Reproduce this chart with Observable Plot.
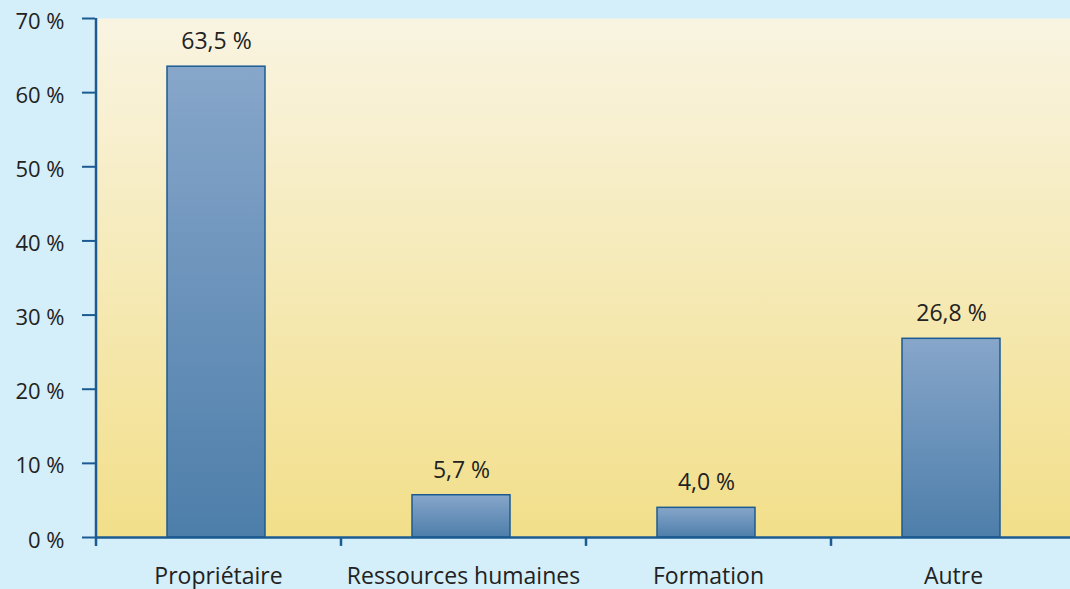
<!DOCTYPE html>
<html><head><meta charset="utf-8">
<script src="https://cdn.jsdelivr.net/npm/d3@7"></script>
<script src="https://cdn.jsdelivr.net/npm/@observablehq/plot@0.6"></script>
<style>html,body{margin:0;padding:0;background:#d4eefa;} svg{display:block}</style>
</head><body><div id="chart"></div>
<script>
const categories = ["Propriétaire", "Ressources humaines", "Formation", "Autre"];
const values = [63.5, 5.7, 4.0, 26.8];
const yTicks = [0, 10, 20, 30, 40, 50, 60, 70];

const data = categories.map((c, i) => ({category: c, value: values[i]}));
const fmt = v => v.toFixed(1).replace(".", ",") + " %";
const step = 245;
const axisColor = "#1c5b92";

const plot = Plot.plot({
  width: 1070, height: 589,
  marginLeft: 95, marginRight: 0, marginTop: 18, marginBottom: 52,
  style: {background: "#d4eefa", fontFamily: "'Open Sans', 'Liberation Sans', Arial, sans-serif", color: "#222", overflow: "visible"},
  x: {domain: categories, range: [93, 1073], paddingInner: 0.6, paddingOuter: 0.3, axis: null, label: null},
  y: {domain: [0, 70], axis: null, label: null},
  marks: [
    Plot.frame({fill: "url(#bgGrad)", stroke: "none"}),
    Plot.barY(data, {x: "category", y: "value", fill: "url(#barGrad)", stroke: axisColor, strokeWidth: 1.5}),
    Plot.text(data, {x: "category", y: "value", text: d => fmt(d.value), dy: -25, fontSize: 23, fill: "#222"}),
    Plot.ruleY([0], {stroke: axisColor, strokeWidth: 2.5}),
    Plot.ruleX([categories[0]], {x: d => d, y1: -1.2, y2: 70, dx: -step / 2 + 2, stroke: axisColor, strokeWidth: 2.5}),
    Plot.ruleX(categories.slice(1), {x: d => d, y1: -1.2, y2: 0, dx: -step / 2 + 2, stroke: axisColor, strokeWidth: 2.5}),
    Plot.axisY({ticks: yTicks, tickFormat: d => d + " %", tickSize: 13, tickPadding: 18, fontSize: 22, stroke: axisColor, strokeWidth: 2, fill: "#222", label: null}),
    Plot.axisX({tickSize: 0, tickPadding: 30, fontSize: 23, fill: "#222", label: null, dx: 2})
  ]
});

const svg = d3.select(plot);
svg.selectAll("g[aria-label='y-axis tick label']").attr("transform", function() {
  const t = this.getAttribute("transform") || "";
  return t + " translate(0,3)";
});
const defs = svg.insert("defs", ":first-child");
const bg = defs.append("linearGradient").attr("id", "bgGrad").attr("x1", 0).attr("y1", 0).attr("x2", 0).attr("y2", 1);
bg.append("stop").attr("offset", "0%").attr("stop-color", "#f9f4e2");
bg.append("stop").attr("offset", "100%").attr("stop-color", "#f2df8a");
const bar = defs.append("linearGradient").attr("id", "barGrad").attr("x1", 0).attr("y1", 0).attr("x2", 0).attr("y2", 1);
bar.append("stop").attr("offset", "0%").attr("stop-color", "#87a6ca");
bar.append("stop").attr("offset", "100%").attr("stop-color", "#4d7eaa");

document.getElementById("chart").appendChild(plot);
</script>
</body></html>
